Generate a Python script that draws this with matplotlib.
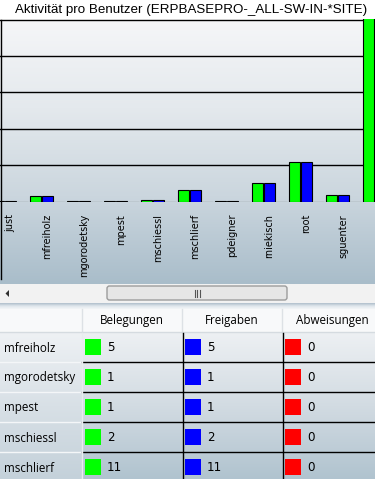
import numpy as np
import matplotlib.pyplot as plt
from matplotlib.patches import Rectangle, FancyBboxPatch, Polygon
from matplotlib.colors import LinearSegmentedColormap

# data (chart is scrolled, last user cut off)
users = ["just", "mfreiholz", "mgorodetsky", "mpest", "mschiessl", "mschlierf",
         "pdeigner", "rniekisch", "root", "sguenter", ""]
belegungen = [1, 5, 1, 1, 2, 11, 1, 18, 38, 6, 200]
freigaben = [1, 5, 1, 1, 2, 11, 1, 18, 38, 6, 200]
abweisungen = [0, 0, 0, 0, 0, 0, 0, 0, 0, 0, 0]
series_names = ["Belegungen", "Freigaben", "Abweisungen"]
series_colors = ["#00ff00", "#0000ff", "#ff0000"]
title = "Aktivität pro Benutzer (ERPBASEPRO-_ALL-SW-IN-*SITE)"
table_users = users[1:6]

W, H = 375, 479
fig = plt.figure(figsize=(W / 100, H / 100), dpi=100)

# background axes in pixel coordinates
bg = fig.add_axes([0, 0, 1, 1])
bg.set_xlim(0, W)
bg.set_ylim(H, 0)
bg.axis("off")


def gradient(x0, x1, y0, y1, colors, z=0):
    cmap = LinearSegmentedColormap.from_list("g", colors)
    grad = np.linspace(0, 1, 256).reshape(-1, 1)
    bg.imshow(grad, cmap=cmap, extent=(x0, x1, y1, y0), origin="upper",
              aspect="auto", zorder=z, interpolation="bilinear")


# title strip + chart area
bg.add_patch(Rectangle((0, 0), W, 20, fc="white", ec="none"))
gradient(0, W, 20, 284, ["#f5f6f8", "#e4e9ed", "#cbd6de", "#a9bdca"])
bg.plot([0.5, 0.5], [20, 279], color="black", lw=1, zorder=5)
bg.text(191, 10, title, ha="center", va="center", fontsize=9.6,
        family="Liberation Sans", color="black")

# scrollbar
bg.add_patch(Rectangle((0, 284), W, 19, fc="#f2f2f2", ec="none", zorder=2))
bg.add_patch(Polygon([[9, 290], [9, 297], [5.5, 293.5]], closed=True,
                     fc="#303030", ec="none", zorder=3))
bg.add_patch(FancyBboxPatch((107, 286), 180, 14,
                            boxstyle="round,pad=0,rounding_size=2.5",
                            fc="#e6e6e6", ec="#9c9c9c", lw=1, zorder=3))
for gx in [194.5, 197, 199.5]:
    bg.plot([gx, gx], [290, 297], color="#555555", lw=0.8, zorder=4)
gradient(0, W, 303, 309, ["#aebdca", "#dfe6ec", "#f4f6f8"], z=2)

# table header
bg.add_patch(Rectangle((0, 309), W, 23, fc="#f8f9fa", ec="none", zorder=2))
for cx in [82, 182, 282]:
    bg.plot([cx, cx], [309, 332], color="#dde1e5", lw=1, zorder=3)
bg.plot([0, W], [332, 332], color="#d5dbe0", lw=1, zorder=3)
for j, name in enumerate(series_names):
    bg.text(132 + 100 * j, 320.5, name, ha="center", va="center",
            fontsize=8.4, family="Open Sans", color="black", zorder=4)

# table body
gradient(0, 82, 333, H, ["#eef1f4", "#d8e0e6", "#c4d1da"], z=2)
gradient(82, W, 333, H, ["#edf0f3", "#d2dbe2", "#b0c3cf"], z=2)
row_h = 30
for r, user in enumerate(table_users):
    top = 332 + r * row_h
    if r > 0:
        bg.plot([0, 82], [top, top], color="#f4f6f8", lw=1, zorder=3)
        bg.plot([82, W], [top, top], color="black", lw=1, zorder=3)
    bg.text(4, top + 16, user, ha="left", va="center", fontsize=8.4,
            family="Open Sans", color="black", zorder=4)
    idx = users.index(user)
    vals = [belegungen[idx], freigaben[idx], abweisungen[idx]]
    for j, v in enumerate(vals):
        bg.add_patch(Rectangle((85 + 100 * j, top + 7), 16, 16,
                               fc=series_colors[j], ec="none", zorder=4))
        bg.text(107 + 100 * j, top + 15.5, str(v), ha="left", va="center",
                fontsize=8.6, family="DejaVu Sans", color="black", zorder=4)
for cx in [182.5, 282.5]:
    bg.plot([cx, cx], [333, H], color="black", lw=1, zorder=3)
bg.plot([82, 82], [333, H], color="#e8ecef", lw=1, zorder=3)

# chart axes: baseline at pixel y=202, top at y=19
px_per_unit = 182 / 175
ax = fig.add_axes([0, (H - 202) / H, 1, 183 / H])
ax.patch.set_alpha(0)
x = np.arange(len(users))
off = 1 / 3
bw = 0.29
for vals, dx, c in [(belegungen, -off, series_colors[0]),
                    (freigaben, 0, series_colors[1]),
                    (abweisungen, off, series_colors[2])]:
    ax.bar(x + dx, vals, bw, color=c, edgecolor="black", lw=0.8, zorder=3)
for gy in [35, 70, 105, 140, 175]:
    ax.axhline(gy, color="black", lw=1, zorder=1)
ax.set_yticks([])
ax.set_xticks(x)
ax.set_xticklabels(users, rotation=90, fontsize=7, family="DejaVu Sans",
                   va="top", ha="center")
ax.tick_params(axis="x", length=0, pad=8.6)
# limits after the ticks, so set_xticks cannot widen them
ax.set_xlim(-10.5 / 37, (W - 10.5) / 37)
ax.set_ylim(-0.4, 183 / px_per_unit - 0.4)
for s in ax.spines.values():
    s.set_visible(False)

fig.savefig("out.png", dpi=100)
